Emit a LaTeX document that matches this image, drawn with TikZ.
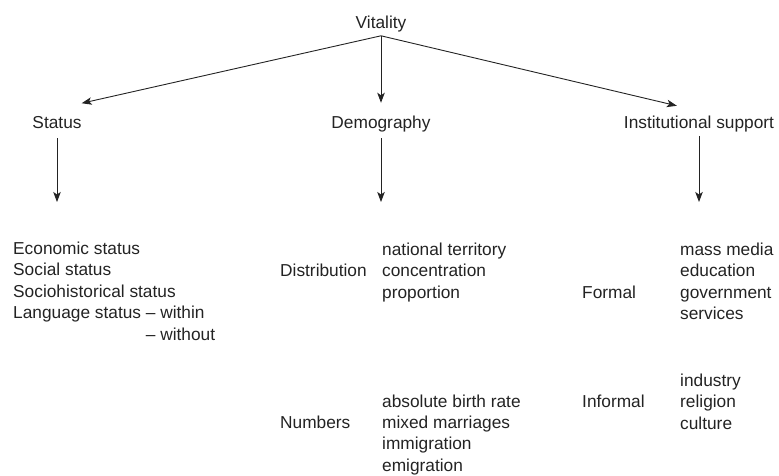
\documentclass[tikz,border=0pt]{standalone}
\usepackage{fontspec}
\setmainfont{Liberation Sans}
\usetikzlibrary{arrows.meta}
\definecolor{ink}{RGB}{35,35,35}
\tikzset{
  txt/.style={inner sep=0pt, text=ink, font=\fontsize{17.3}{21.5}\selectfont},
  lbl/.style={txt, anchor=base},
  item/.style={txt, anchor=base west},
  arr/.style={draw=ink, line width=0.9pt, -{Stealth[length=10pt,width=7.5pt,inset=2.5pt]}}
}
\begin{document}
\begin{tikzpicture}[x=1pt,y=-1pt]
\useasboundingbox (0,0) rectangle (779,475);
% top level
\node[lbl] (vit) at (381,28) {Vitality};
\node[lbl] (st) at (57,128) {Status};
\node[lbl] (dem) at (381,128) {Demography};
\node[lbl] (ins) at (699,128) {Institutional support};
\draw[arr] ([yshift=-4pt]vit.south) -- ([yshift=12.5pt]st.north east);
\draw[arr] ([yshift=-4pt]vit.south) -- ([yshift=12.5pt]dem.north);
\draw[arr] ([yshift=-4pt]vit.south) -- ([xshift=53pt,yshift=9.5pt]ins.north west);
% lower arrows
\coordinate (stend) at (57,202);
\coordinate (demend) at (381,202);
\coordinate (insend) at (699,202);
\draw[arr] ([yshift=-10pt]st.south) -- (stend);
\draw[arr] ([yshift=-6.5pt]dem.south) -- (demend);
\draw[arr] ([yshift=-4pt]ins.south) -- (insend);
% status list
\node[item] (s1) at (13,254) {Economic status};
\node[item] (s2) at (13,275.5) {Social status};
\node[item] (s3) at (13,297) {Sociohistorical status};
\node[item] (s4) at (13,318.5) {Language status – within};
\node[item] (s5) at (13,340) {\phantom{Language status }– without};
% demography
\node[item] (dist) at (280,276) {Distribution};
\node[item] (d1) at (382,255) {national territory};
\node[item] (d2) at (382,276.5) {concentration};
\node[item] (d3) at (382,298) {proportion};
\node[item] (num) at (280,428.3) {Numbers};
\node[item] (n1) at (382,407) {absolute birth rate};
\node[item] (n2) at (382,428.3) {mixed marriages};
\node[item] (n3) at (382,449.7) {immigration};
\node[item] (n4) at (382,471) {emigration};
% institutional support
\node[item] (form) at (582,298) {Formal};
\node[item] (f1) at (680,255) {mass media};
\node[item] (f2) at (680,276.5) {education};
\node[item] (f3) at (680,298) {government};
\node[item] (f4) at (680,319.5) {services};
\node[item] (inf) at (582,407) {Informal};
\node[item] (i1) at (680,386) {industry};
\node[item] (i2) at (680,407.5) {religion};
\node[item] (i3) at (680,429) {culture};
\end{tikzpicture}
\end{document}
